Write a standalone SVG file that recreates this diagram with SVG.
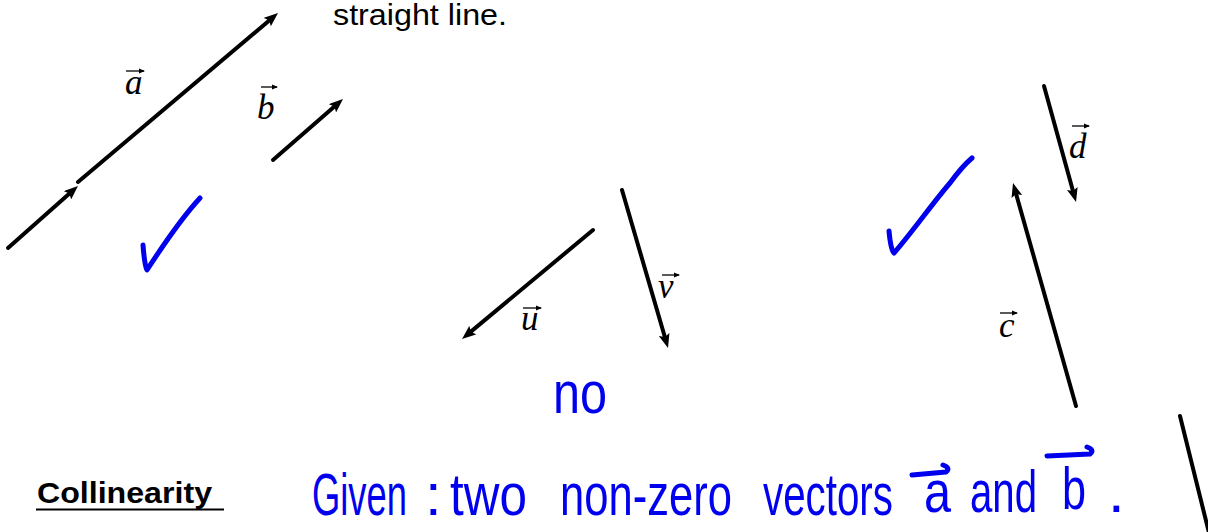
<svg xmlns="http://www.w3.org/2000/svg" width="1208" height="532" viewBox="0 0 1208 532">
<style>
.vec{stroke:#000;stroke-width:4;stroke-linecap:round;fill:none;marker-end:url(#ah)}
.lbl{font-family:"Liberation Serif",serif;font-style:italic;font-size:35px;fill:#000}
.ov{stroke:#000;stroke-width:1.3;fill:none;marker-end:url(#sh)}
.hw{font-family:"Liberation Sans",Arial,sans-serif;font-size:60px;fill:#0000ee}
.chk{stroke:#0000ee;stroke-width:5;stroke-linecap:round;stroke-linejoin:round;fill:none}
.print{font-family:"Liberation Sans",Arial,sans-serif;font-size:30px;fill:#000}
</style>
<defs>
<marker id="ah" markerUnits="userSpaceOnUse" viewBox="0 0 14 11" markerWidth="14" markerHeight="11" refX="6" refY="5.5" orient="auto">
<path d="M0,0 L14,5.5 L0,11 L2.5,5.5 z" fill="#000"/>
</marker>
<marker id="sh" markerUnits="userSpaceOnUse" viewBox="0 0 6 6" markerWidth="6" markerHeight="6" refX="5" refY="3" orient="auto">
<path d="M0,0.5 L6,3 L0,5.5 z" fill="#000"/>
</marker>
</defs>
<rect width="1208" height="532" fill="#fff"/>

<text class="print" x="333" y="25" textLength="174" lengthAdjust="spacingAndGlyphs">straight line.</text>

<g id="connectors">
<path class="vec" d="M8,248 L72.0,191.3"/>
<path class="vec" d="M78,182 L271.9,18.2"/>
<path class="vec" d="M273,160 L337.0,104.3"/>
<path class="vec" d="M593,230 L468.2,333.9"/>
<path class="vec" d="M622,190 L665.8,340.3"/>
<path class="vec" d="M1044,86 L1073.9,194.3"/>
<path class="vec" d="M1076,406 L1015.2,190.7"/>
<path class="vec" d="M1180,416 L1210.1,537.2"/>
</g>

<g id="label-a">
<text class="lbl" x="125" y="94">a</text>
<path class="ov" d="M126,71 L144,71"/>
</g>
<g id="label-b">
<text class="lbl" x="257" y="119">b</text>
<path class="ov" d="M261,87 L277,87"/>
</g>
<g id="label-u">
<text class="lbl" x="521" y="330">u</text>
<path class="ov" d="M523,308 L541,308"/>
</g>
<g id="label-v">
<text class="lbl" x="658" y="298">v</text>
<path class="ov" d="M662,275 L679,275"/>
</g>
<g id="label-d">
<text class="lbl" x="1069" y="158">d</text>
<path class="ov" d="M1072,126 L1089,126"/>
</g>
<g id="label-c">
<text class="lbl" x="999" y="337">c</text>
<path class="ov" d="M1000,313 L1017,313"/>
</g>

<g id="check1"><path class="chk" d="M143,245 C144,258 145,266 147,270 C160,250 178,222 200,198"/></g>
<g id="check2"><path class="chk" d="M889,231 C890,242 891,250 894,253 C910,235 935,200 950,183 C958,172 965,164 972,158"/></g>

<g id="no"><text class="hw" transform="translate(553,413) scale(0.81,1)">no</text></g>

<g id="collinearity">
<text class="print" x="37" y="503" font-weight="bold" textLength="175" lengthAdjust="spacingAndGlyphs">Collinearity</text>
<line x1="36" y1="509.5" x2="224" y2="509.5" stroke="#000" stroke-width="2"/>
</g>

<g id="given">
<text class="hw" transform="translate(312,515) scale(0.606,1)">Given</text>
<text class="hw" x="425" y="515">:</text>
<text class="hw" transform="translate(450,515) scale(0.824,1)">two</text>
<text class="hw" transform="translate(560,515) scale(0.726,1)">non-zero</text>
<text class="hw" transform="translate(763,515) scale(0.672,1)">vectors</text>
<text class="hw" transform="translate(924,512) scale(0.81,1)">a</text>
<path class="chk" d="M912,475 L946,472 Q951,468 943,465" stroke-width="4"/>
<text class="hw" transform="translate(970,512) scale(0.67,1)">and</text>
<text class="hw" transform="translate(1062,509) scale(0.72,1)">b</text>
<path class="chk" d="M1047,456 L1090,454 Q1095,450 1087,447" stroke-width="4"/>
<text class="hw" x="1108" y="512">.</text>
</g>
</svg>
